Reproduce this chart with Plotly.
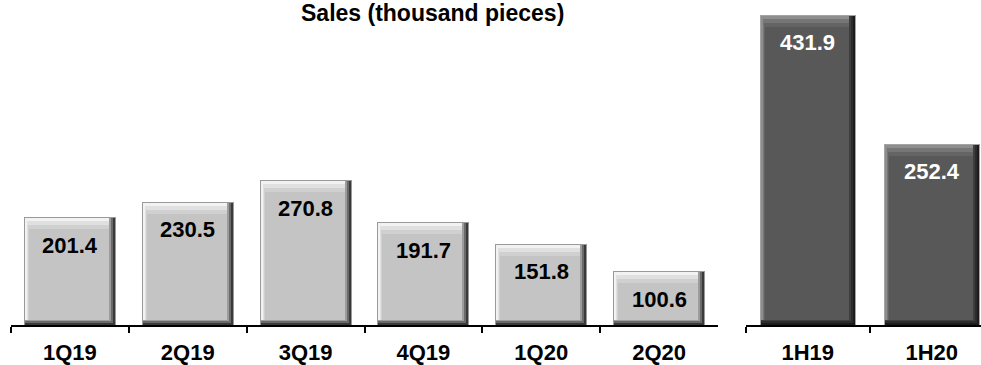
import plotly.graph_objects as go

# Quarterly sales (thousand pieces)
quarters = ["1Q19", "2Q19", "3Q19", "4Q19", "1Q20", "2Q20"]
quarter_sales = [201.4, 230.5, 270.8, 191.7, 151.8, 100.6]

# Half-year sales (thousand pieces)
halves = ["1H19", "1H20"]
half_sales = [431.9, 252.4]

W, H = 981, 365
FONT = "Liberation Sans, Arial, sans-serif"

# plot geometry (pixels)
base_px = 325                      # zero line
left_x0, left_x1 = 11, 718         # quarterly axis extent
right_x0 = 745.7                   # half-year axis start
right_cat_px = 124.0               # pixel width of one half-year category
left_cat_px = (left_x1 - left_x0) / len(quarters)
left_ymax = 607.0
right_ymax = 452.3
BAR_FRAC = 0.78

# bevel layers: (left, right, bottom, top) insets in px, light colour, dark colour
bevel = [
    ((0, 0, 0, 0), "#9a9a9a", "#a4a4a4"),
    ((1, 1, 0, 1), "#3a3a3a", "#1c1c1c"),
    ((1, 3, 2, 1), "#6a6a6a", "#2c2c2c"),
    ((1, 5, 4, 1), "#9c9c9c", "#3e3e3e"),
    ((1, 7, 5, 1), "#f2f2f2", "#8e8e8e"),
    ((3, 7, 5, 4), "#e0e0e0", "#767676"),
    ((4, 7, 5, 8), "#d0d0d0", "#646464"),
    ((5, 7, 5, 12), "#c4c4c4", "#585858"),
]

fig = go.Figure()


def add_bars(cats, vals, xa, ya, cat_px, ymax, dark):
    px_per_unit = base_px / ymax
    bar_px = BAR_FRAC * cat_px
    for (l, r, b, t), c_light, c_dark in bevel:
        fig.add_trace(go.Bar(
            x=cats,
            y=[v - (b + t) / px_per_unit for v in vals],
            base=[b / px_per_unit] * len(vals),
            width=(bar_px - l - r) / cat_px,
            offset=(-bar_px / 2 + l) / cat_px,
            marker=dict(color=c_dark if dark else c_light, line=dict(width=0)),
            xaxis=xa, yaxis=ya,
            showlegend=False, hoverinfo="skip",
        ))
    for c, v in zip(cats, vals):
        fig.add_annotation(
            x=c, y=v, xref=xa, yref=ya, text=f"{v:.1f}",
            showarrow=False, yanchor="middle", yshift=-28,
            font=dict(family=FONT, size=22, color="white" if dark else "black",
                      weight="bold"),
        )


add_bars(quarters, quarter_sales, "x", "y", left_cat_px, left_ymax, False)
add_bars(halves, half_sales, "x2", "y2", right_cat_px, right_ymax, True)

ydom = [(H - base_px) / H, 1.0]
axis_common = dict(
    type="category", showline=True, linecolor="black", linewidth=2,
    ticks="outside", tickson="boundaries", ticklen=6, tickwidth=2,
    tickcolor="black", showgrid=False, zeroline=False,
    tickfont=dict(family=FONT, size=22, color="black", weight="bold"),
    ticklabelstandoff=7, fixedrange=True,
)

fig.update_layout(
    width=W, height=H,
    margin=dict(l=0, r=0, t=0, b=0),
    paper_bgcolor="white", plot_bgcolor="white",
    barmode="overlay", bargap=0,
    xaxis=dict(axis_common, domain=[left_x0 / W, left_x1 / W],
               range=[-0.5, len(quarters) - 0.5], anchor="y"),
    yaxis=dict(domain=ydom, range=[0, left_ymax], visible=False),
    xaxis2=dict(axis_common, domain=[right_x0 / W, 1.0],
                range=[-0.5, (W - right_x0) / right_cat_px - 0.5], anchor="y2"),
    yaxis2=dict(domain=ydom, range=[0, right_ymax], visible=False, anchor="x2"),
)

fig.add_annotation(
    x=432 / W, y=1, xref="paper", yref="paper", yanchor="top",
    text="Sales (thousand pieces)", showarrow=False, yshift=2,
    font=dict(family=FONT, size=23, color="black", weight="bold"),
)

fig.write_html("out.html")
